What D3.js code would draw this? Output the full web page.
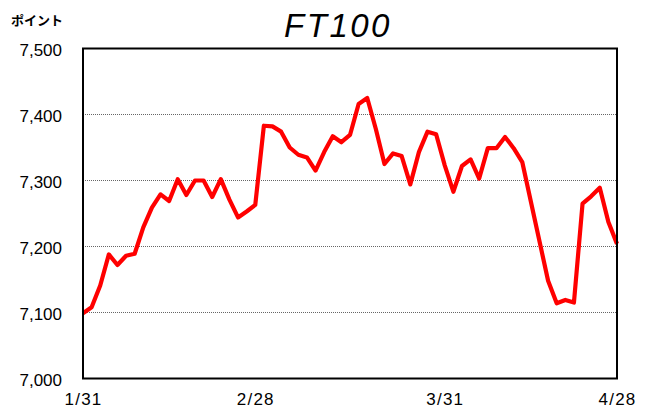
<!DOCTYPE html>
<html><head><meta charset="utf-8">
<script src="https://cdn.jsdelivr.net/npm/d3@7"></script>
<style>html,body{margin:0;padding:0;background:#fff;}svg{display:block;}</style>
</head><body>
<svg id="chart" width="653" height="411"></svg>
<script>
const dates = ["1/31",
 "2/1","2/2","2/3","2/6","2/7","2/8","2/9","2/10","2/13","2/14","2/15","2/16","2/17","2/20","2/21","2/22","2/23","2/24","2/27","2/28",
 "3/1","3/2","3/3","3/6","3/7","3/8","3/9","3/10","3/13","3/14","3/15","3/16","3/17","3/21","3/22","3/23","3/24","3/27","3/28","3/29","3/30","3/31",
 "4/3","4/4","4/5","4/6","4/7","4/10","4/11","4/12","4/13","4/14","4/17","4/18","4/19","4/20","4/21","4/24","4/25","4/26","4/27","4/28"];
const values = [7099,
 7108,7141,7188,7172,7186,7189,7229,7259,7279,7269,7302,7278,7300,7300,7275,7302,7271,7244,7253,7263,
 7383,7382,7374,7350,7339,7335,7315,7343,7367,7358,7369,7416,7425,7378,7325,7341,7337,7294,7343,7374,7370,7323,
 7283,7322,7332,7303,7349,7349,7366,7349,7328,null,null,7148,7114,7119,7115,7265,7276,7289,7237,7204];
const xTickLabels = ["1/31","2/28","3/31","4/28"];
const yTicks = [7000,7100,7200,7300,7400,7500];
const title = "FT100";
const unitLabel = "ポイント";

const svg = d3.select("#chart");
const L = 83, R = 617, T = 48.5, B = 378.5;
const x = d3.scalePoint().domain(dates).range([L, R]);
const y = d3.scaleLinear().domain([7000, 7500]).range([B, T]);
const font = "'Liberation Sans', Arial, sans-serif";

// gridlines
svg.append("g").selectAll("line").data(yTicks.filter(v => v > 7000 && v < 7500)).join("line")
  .attr("x1", L).attr("x2", R).attr("y1", d => y(d)).attr("y2", d => y(d))
  .attr("stroke", "#666").attr("stroke-width", 1).attr("stroke-dasharray", "1,1");

// line
const pts = dates.map((d, i) => ({d, v: values[i]})).filter(p => p.v !== null);
svg.append("path").datum(pts)
  .attr("d", d3.line().x(p => x(p.d)).y(p => y(p.v)))
  .attr("fill", "none").attr("stroke", "#ff0000").attr("stroke-width", 4.2)
  .attr("stroke-linejoin", "round");

// frame
svg.append("rect").attr("x", L).attr("y", T).attr("width", R - L).attr("height", B - T)
  .attr("fill", "none").attr("stroke", "#000").attr("stroke-width", 2);

// y axis labels
const yAxis = d3.axisLeft(y).tickValues(yTicks).tickFormat(d3.format(",")).tickSize(0).tickPadding(21);
const gy = svg.append("g").attr("transform", `translate(${L},0)`).call(yAxis);
gy.select(".domain").remove();
gy.selectAll("text").attr("font-family", font).attr("font-size", 17).attr("fill", "#000").attr("dy", "0.42em");

// x axis labels
const xAxis = d3.axisBottom(x).tickValues(xTickLabels).tickSize(0).tickPadding(14);
const gx = svg.append("g").attr("transform", `translate(0,${B})`).call(xAxis);
gx.select(".domain").remove();
gx.selectAll("text").attr("font-family", font).attr("font-size", 17).attr("fill", "#000").attr("letter-spacing", 1.2);

// title
svg.append("text").attr("x", 338).attr("y", 37).attr("text-anchor", "middle")
  .attr("font-family", font).attr("font-style", "italic").attr("font-size", 33)
  .attr("letter-spacing", 2.5).text(title);

// unit label
svg.append("text").attr("x", 11).attr("y", 25)
  .attr("font-family", "'Noto Sans CJK JP', sans-serif").attr("font-size", 13).attr("font-weight", "bold")
  .text(unitLabel);
</script>
</body></html>
